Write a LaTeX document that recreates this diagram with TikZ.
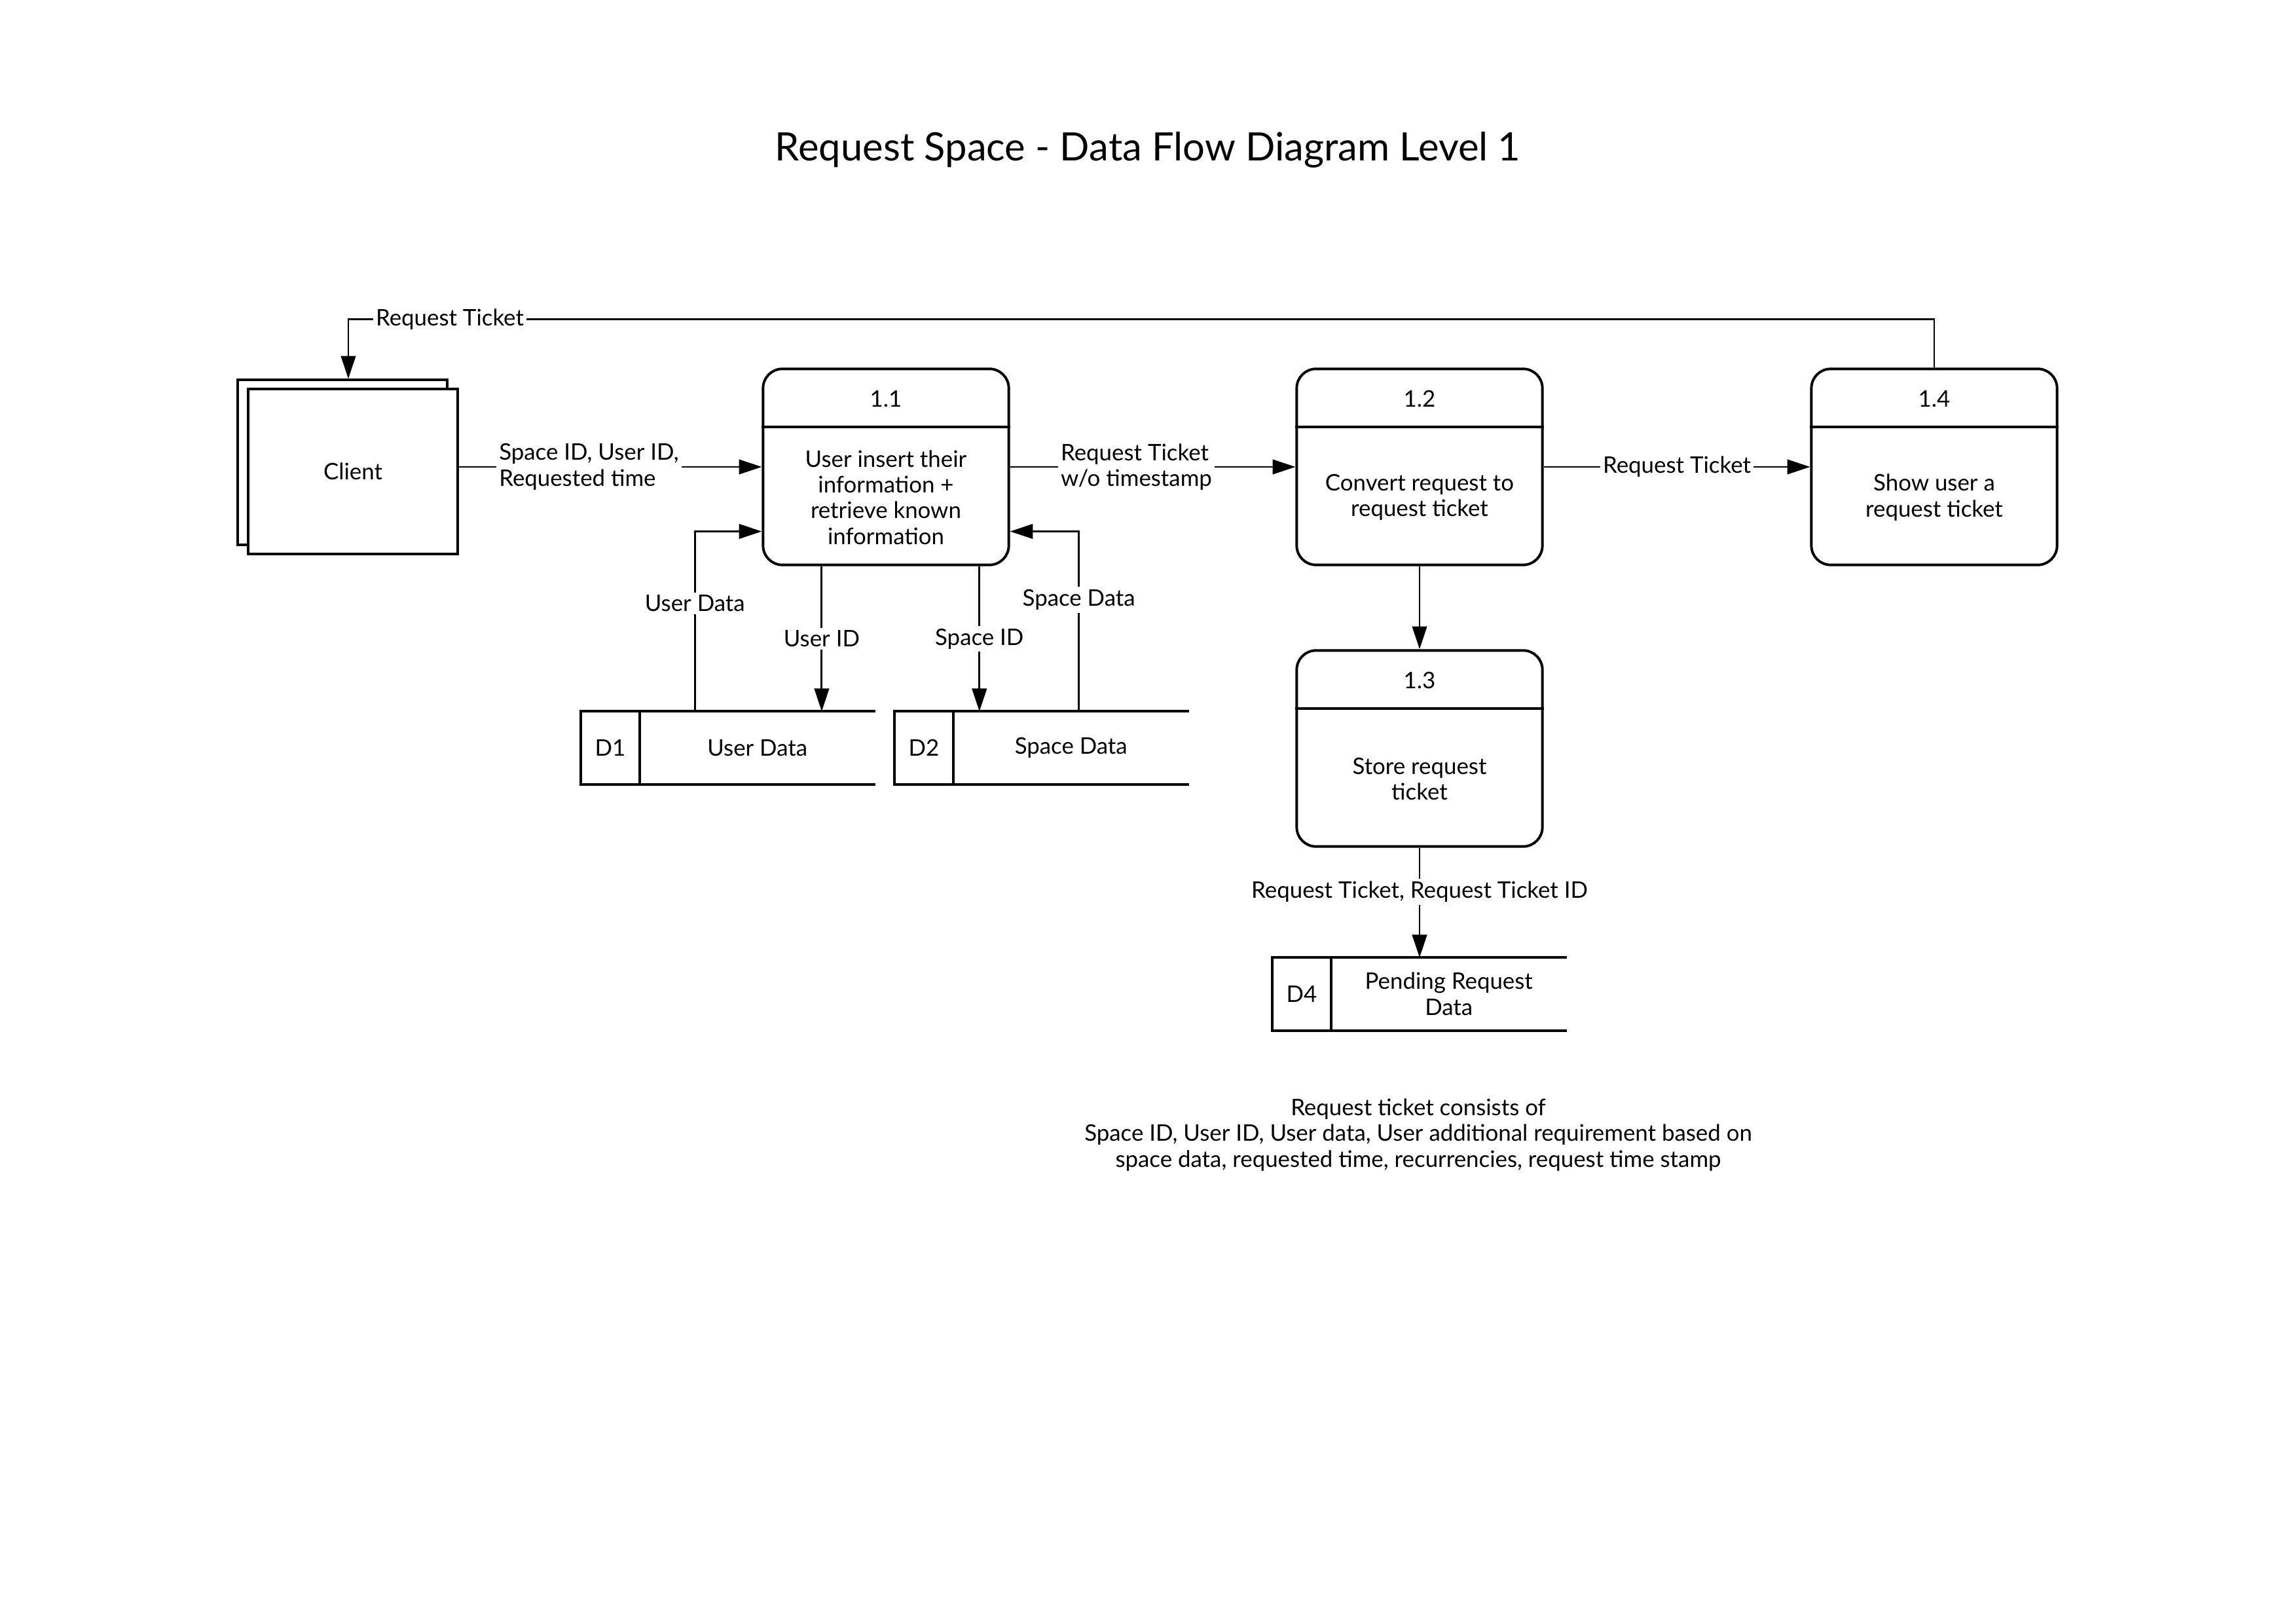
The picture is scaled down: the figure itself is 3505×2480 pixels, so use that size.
\documentclass[tikz,border=0pt]{standalone}
\usepackage{fontspec}
\setmainfont{Lato}
\usetikzlibrary{positioning,arrows.meta,calc}

\begin{document}
\begin{tikzpicture}[x=0.08474mm,y=-0.08474mm,line width=0.7pt,
  font=\fontsize{8.4}{9.5}\selectfont,
  flow/.style={-{Triangle[length=2.95mm,width=1.9mm]}},
  proc/.style={draw,line width=0.95pt,rounded corners=2.5mm,minimum width=31.8mm,minimum height=25.37mm},
  lbl/.style={fill=white,inner sep=1pt,align=center},
  ext/.style={draw,line width=0.95pt,fill=white,minimum width=27.16mm,minimum height=21.3mm},
  storeid/.style={draw,line width=0.95pt,outer sep=0pt,minimum width=7.59mm,minimum height=9.44mm,inner sep=0pt},
  storename/.style={outer sep=0pt,minimum width=30.5mm,minimum height=9.44mm,inner sep=0pt,align=center}]
\useasboundingbox (0,0) rectangle (3505,2480);

\node[font=\fontsize{14.4}{17}\selectfont] (title) at (1753,229) {Request Space - Data Flow Diagram Level 1};

% external entity
\node[ext] (clientback) at (523,706) {};
\node[ext] (client) at (539,720) {Client};

% processes
\node[proc] (p11) at (1353,713) {};
\node[proc] (p12) at (2168,713) {};
\node[proc] (p14) at (2954,713) {};
\node[proc] (p13) at (2168,1143) {};
\foreach \p/\n in {p11/1.1,p12/1.2,p13/1.3,p14/1.4}{
  \node (\p num) at ($(\p.center)+(0,-104)$) {\n};
  \draw[line width=0.95pt] ($(\p.west)+(0,-60.7)$) -- ($(\p.east)+(0,-60.7)$);
}
\node[align=center] (t11) at ($(p11.center)+(0,46.5)$) {User insert their\\information +\\retrieve known\\information};
\node[align=center] (t12) at ($(p12.center)+(0,46.5)$) {Convert request to\\request ticket};
\node[align=center] (t13) at ($(p13.center)+(0,46.5)$) {Store request\\ticket};
\node[align=center] (t14) at ($(p14.center)+(0,46.5)$) {Show user a\\request ticket};

% data stores
\node[storeid] (d1id) at (932,1142) {D1};
\node[storename,right=0pt of d1id] (d1) {User Data};
\node[storeid] (d2id) at (1411,1142) {D2};
\node[storename,right=0pt of d2id] (d2) {Space Data};
\node[storeid] (d4id) at (1988,1518) {D4};
\node[storename,right=0pt of d4id] (d4) {Pending Request\\Data};
\foreach \s in {d1,d2,d4}
  \draw[line width=0.95pt] (\s id.north east) -- (\s.north east) (\s id.south east) -- (\s.south east);

% ports
\coordinate (uidout) at ([xshift=-8.31mm]p11.south);
\coordinate (sidout) at ([xshift=12.1mm]p11.south);
\coordinate (udin) at ([yshift=-8.35mm]p11.west);
\coordinate (sdin) at ([yshift=-8.35mm]p11.east);
\coordinate (udout) at ([xshift=-8.09mm]d1.north);
\coordinate (sdout) at ([xshift=1.01mm]d2.north);
\coordinate (cltop) at ([xshift=0.76mm]clientback.north);

% flows
\draw[flow] (client.east |- p11.west) -- node[lbl,anchor=west,align=left,pos=0.12] {Space ID, User ID,\\Requested time} (p11.west);
\draw[flow] (p11) -- node[lbl,anchor=west,align=left,pos=0.165] {Request Ticket\\w/o timestamp} (p12);
\draw[flow] (p12) -- node[lbl] {Request Ticket} (p14);
\draw[flow] (p12) -- (p13);
\draw[flow] (p13) -- node[lbl,pos=0.4] {Request Ticket, Request Ticket ID} (p13.south |- d4.north);
\draw[flow] (uidout) -- node[lbl] {User ID} (uidout |- d1.north);
\draw[flow] (sidout) -- node[lbl] {Space ID} (sidout |- d2.north);
\draw[flow] (udout) |- node[lbl,pos=0.3] {User Data} (udin);
\draw[flow] (sdout) |- node[lbl,pos=0.31] {Space Data} (sdin);
\draw[flow] (p14.north) -- ++(0,-74) -| node[lbl,pos=0.468] {Request Ticket} (cltop);

\node[align=center] (note) at (2166,1733) {Request ticket consists of\\Space ID, User ID, User data, User additional requirement based on\\space data, requested time, recurrencies, request time stamp};
\end{tikzpicture}
\end{document}
